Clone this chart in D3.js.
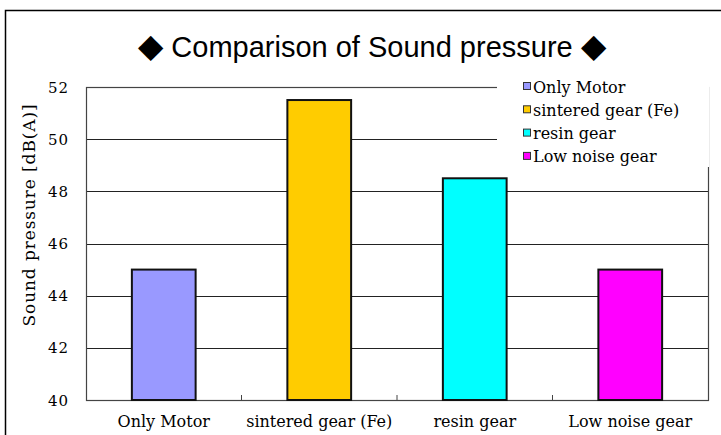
<!DOCTYPE html>
<html>
<head>
<meta charset="utf-8">
<script src="https://cdn.jsdelivr.net/npm/d3@7"></script>
<style>
  body { margin: 0; background: #fff; }
  text { fill: #000; }
</style>
</head>
<body>
<div id="chart"></div>
<script>
var categories = ["Only Motor", "sintered gear (Fe)", "resin gear", "Low noise gear"],
    values = [45, 51.5, 48.5, 45],
    colors = ["#9999ff", "#ffcc00", "#00ffff", "#ff00ff"],
    yTicks = [40, 42, 44, 46, 48, 50, 52];

var width = 721,
    height = 435;

// plot area (named so they don't clash with window.top)
var plotLeft = 86, plotRight = 708, plotTop = 87, plotBottom = 400;

var svg = d3.select("#chart")
  .append("svg")
  .attr("width", width)
  .attr("height", height);

// outer frame (right and bottom edges fall off the picture)
svg.append("rect")
  .attr("x", 5.5)
  .attr("y", 10.5)
  .attr("width", 740)
  .attr("height", 460)
  .style("fill", "#fff")
  .style("stroke", "#000")
  .style("stroke-width", "1.5px");

// title, diamonds drawn a bit larger like the full-width glyph
var title = svg.append("text")
  .attr("x", 372)
  .attr("y", 57)
  .attr("text-anchor", "middle")
  .style("font-family", "'Liberation Sans', Arial, sans-serif")
  .style("font-size", "29px");
title.append("tspan").style("font-size", "33px").text("\u25C6");
title.append("tspan").text(" Comparison of Sound pressure ");
title.append("tspan").style("font-size", "33px").text("\u25C6");

// scales
var x = d3.scaleBand()
  .domain(categories)
  .range([plotLeft, plotRight])
  .paddingInner(0.59)
  .paddingOuter(0.295);

var y = d3.scaleLinear()
  .domain([40, 52])
  .range([plotBottom, plotTop]);

// gridlines
svg.append("g")
  .selectAll("line")
  .data(yTicks)
  .join("line")
  .attr("x1", plotLeft)
  .attr("x2", plotRight)
  .attr("y1", function(d) { return Math.round(y(d)) + 0.5; })
  .attr("y2", function(d) { return Math.round(y(d)) + 0.5; })
  .style("stroke", "#222")
  .style("stroke-width", "1px");

// plot frame
svg.append("rect")
  .attr("x", plotLeft + 0.5)
  .attr("y", plotTop + 0.5)
  .attr("width", plotRight - plotLeft)
  .attr("height", plotBottom - plotTop)
  .style("fill", "none")
  .style("stroke", "#444")
  .style("stroke-width", "1.2px");

// category boundary ticks on the bottom
var step = (plotRight - plotLeft) / categories.length;
svg.append("g")
  .selectAll("line")
  .data(d3.range(1, categories.length))
  .join("line")
  .attr("x1", function(i) { return plotLeft + i * step; })
  .attr("x2", function(i) { return plotLeft + i * step; })
  .attr("y1", plotBottom)
  .attr("y2", plotBottom - 5)
  .style("stroke", "#444");

// bars
svg.append("g")
  .selectAll("rect")
  .data(values)
  .join("rect")
  .attr("x", function(d, i) { return x(categories[i]); })
  .attr("y", function(d) { return y(d); })
  .attr("width", x.bandwidth())
  .attr("height", function(d) { return plotBottom - y(d); })
  .style("fill", function(d, i) { return colors[i]; })
  .style("stroke", "#111")
  .style("stroke-width", "2px");

// y axis labels
var axisFont = "'DejaVu Serif', 'Liberation Serif', serif";
svg.append("g")
  .selectAll("text")
  .data(yTicks)
  .join("text")
  .attr("x", 69)
  .attr("y", function(d) { return y(d) + 5.5; })
  .attr("text-anchor", "end")
  .style("font-family", axisFont)
  .style("font-size", "15px")
  .style("letter-spacing", "1px")
  .text(function(d) { return d; });

// x axis labels
svg.append("g")
  .selectAll("text")
  .data(categories)
  .join("text")
  .attr("x", function(d) { return x(d) + x.bandwidth() / 2; })
  .attr("y", 427)
  .attr("text-anchor", "middle")
  .style("font-family", axisFont)
  .style("font-size", "16px")
  .text(function(d) { return d; });

// y axis title
svg.append("text")
  .attr("transform", "translate(35,215) rotate(-90)")
  .attr("text-anchor", "middle")
  .style("font-family", axisFont)
  .style("font-size", "17px")
  .style("letter-spacing", "0.9px")
  .text("Sound pressure [dB(A)]");

// legend (white box hides the grid behind it)
var legend = svg.append("g").attr("transform", "translate(497,75)");
legend.append("rect")
  .attr("width", 212)
  .attr("height", 92)
  .style("fill", "#fff");

var rows = legend.selectAll("g")
  .data(categories)
  .join("g")
  .attr("transform", function(d, i) { return "translate(26," + (12 + i * 23.3) + ")"; });

rows.append("rect")
  .attr("x", 0.5)
  .attr("y", -4.5)
  .attr("width", 7)
  .attr("height", 7)
  .style("fill", function(d, i) { return colors[i]; })
  .style("stroke", "#333")
  .style("stroke-width", "1px");

rows.append("text")
  .attr("x", 10)
  .attr("y", 5.5)
  .style("font-family", axisFont)
  .style("font-size", "16px")
  .text(function(d) { return d; });
</script>
</body>
</html>
